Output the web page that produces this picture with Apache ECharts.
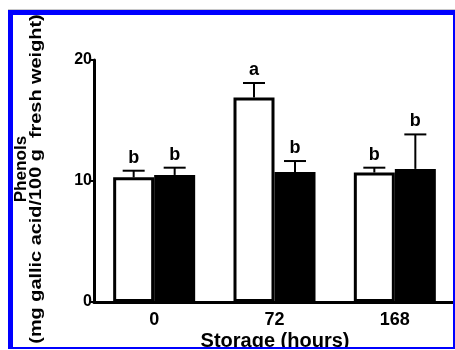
<!DOCTYPE html>
<html><head><meta charset="utf-8">
<script src="https://cdn.jsdelivr.net/npm/echarts@6/dist/echarts.min.js"></script>
<style>html,body{margin:0;padding:0;background:#fff}#c{width:455px;height:350px}</style>
</head><body><div id="c"></div>
<script>
var categories = ['0', '72', '168'];
var whiteValues = [10.3, 16.9, 10.7];
var whiteErrors = [0.55, 1.2, 0.4];
var whiteLetters = ['b', 'a', 'b'];
var blackValues = [10.5, 10.75, 11.0];
var blackErrors = [0.6, 0.9, 2.85];
var blackLetters = ['b', 'b', 'b'];
var yTicks = [0, 10, 20];
var yTitle1 = 'Phenols';
var yTitle2 = '(mg gallic acid/100 g  fresh weight)';
var xTitle = 'Storage (hours)';

var FONT = '"Liberation Sans", Arial, sans-serif';
var BAR_W = 41;

function errSeries(vals, errs, letters, offset) {
  return {
    type: 'custom',
    z: 5,
    data: categories.map(function (c, i) { return [i, vals[i], errs[i]]; }),
    renderItem: function (params, api) {
      var i = api.value(0), v = api.value(1), e = api.value(2);
      var base = api.coord([i, v]);
      var top = api.coord([i, v + e]);
      var x = base[0] + offset;
      return {
        type: 'group',
        children: [
          { type: 'line', shape: { x1: x, y1: base[1], x2: x, y2: top[1] }, style: { stroke: '#000', lineWidth: 2 } },
          { type: 'line', shape: { x1: x - 11, y1: top[1], x2: x + 11, y2: top[1] }, style: { stroke: '#000', lineWidth: 2 } },
          { type: 'text', style: { text: letters[params.dataIndex], x: x, y: top[1] - 4, textAlign: 'center', textVerticalAlign: 'bottom', font: 'bold 18px ' + FONT, fill: '#000' } }
        ]
      };
    }
  };
}

var chart = echarts.init(document.getElementById('c'), null, { renderer: 'canvas' });
chart.setOption({
  animation: false,
  backgroundColor: '#fff',
  grid: { left: 94, right: -4, top: 60, bottom: 48, containLabel: false },
  xAxis: {
    type: 'category',
    data: categories,
    axisLine: { show: true, lineStyle: { color: '#000', width: 3 } },
    axisTick: { show: false },
    axisLabel: { color: '#000', fontWeight: 'bold', fontSize: 18, fontFamily: FONT, margin: 9 }
  },
  yAxis: {
    type: 'value',
    min: yTicks[0], max: yTicks[yTicks.length - 1], interval: 10,
    axisLine: { show: true, lineStyle: { color: '#000', width: 3 } },
    axisTick: { show: true, length: 5, lineStyle: { color: '#000', width: 2 } },
    axisLabel: { color: '#000', fontWeight: 'bold', fontSize: 16, fontFamily: FONT, margin: 2 },
    splitLine: { show: false }
  },
  series: [
    { type: 'bar', data: whiteValues, barWidth: BAR_W, barGap: '0%',
      itemStyle: { color: '#fff', borderColor: '#000', borderWidth: 3 } },
    { type: 'bar', data: blackValues, barWidth: BAR_W, barGap: '0%',
      itemStyle: { color: '#000', borderColor: '#000', borderWidth: 3 } },
    errSeries(whiteValues, whiteErrors, whiteLetters, -BAR_W / 2),
    errSeries(blackValues, blackErrors, blackLetters, BAR_W / 2)
  ],
  graphic: [
    { type: 'text', x: 22, y: 169, rotation: Math.PI / 2, scaleX: 1.07, z: 10,
      style: { text: yTitle1, textAlign: 'center', textVerticalAlign: 'middle', font: 'bold 16px ' + FONT, fill: '#000' } },
    { type: 'text', x: 36.5, y: 179, rotation: Math.PI / 2, scaleX: 1.17, z: 10,
      style: { text: yTitle2, textAlign: 'center', textVerticalAlign: 'middle', font: 'bold 17px ' + FONT, fill: '#000' } },
    { type: 'text', x: 275, y: 331, z: 10,
      style: { text: xTitle, textAlign: 'center', textVerticalAlign: 'top', font: 'bold 20px ' + FONT, fill: '#000' } },
    { type: 'rect', z: 100, shape: { x: 0, y: 0, width: 455, height: 9 }, style: { fill: '#fff' } },
    { type: 'rect', z: 100, shape: { x: 0, y: 0, width: 8, height: 350 }, style: { fill: '#fff' } },
    { type: 'rect', z: 100, shape: { x: 8, y: 9, width: 447, height: 1 }, style: { fill: '#c8c8c8' } },
    { type: 'rect', z: 100, shape: { x: 8, y: 10, width: 447, height: 5 }, style: { fill: '#0000ff' } },
    { type: 'rect', z: 100, shape: { x: 8, y: 10, width: 5, height: 339 }, style: { fill: '#0000ff' } },
    { type: 'rect', z: 100, shape: { x: 453, y: 10, width: 2, height: 339 }, style: { fill: '#0000ff' } },
    { type: 'rect', z: 100, shape: { x: 8, y: 347, width: 447, height: 2 }, style: { fill: '#0000ff' } },
    { type: 'rect', z: 100, shape: { x: 0, y: 349, width: 455, height: 1 }, style: { fill: '#fff' } }
  ]
});
</script></body></html>
